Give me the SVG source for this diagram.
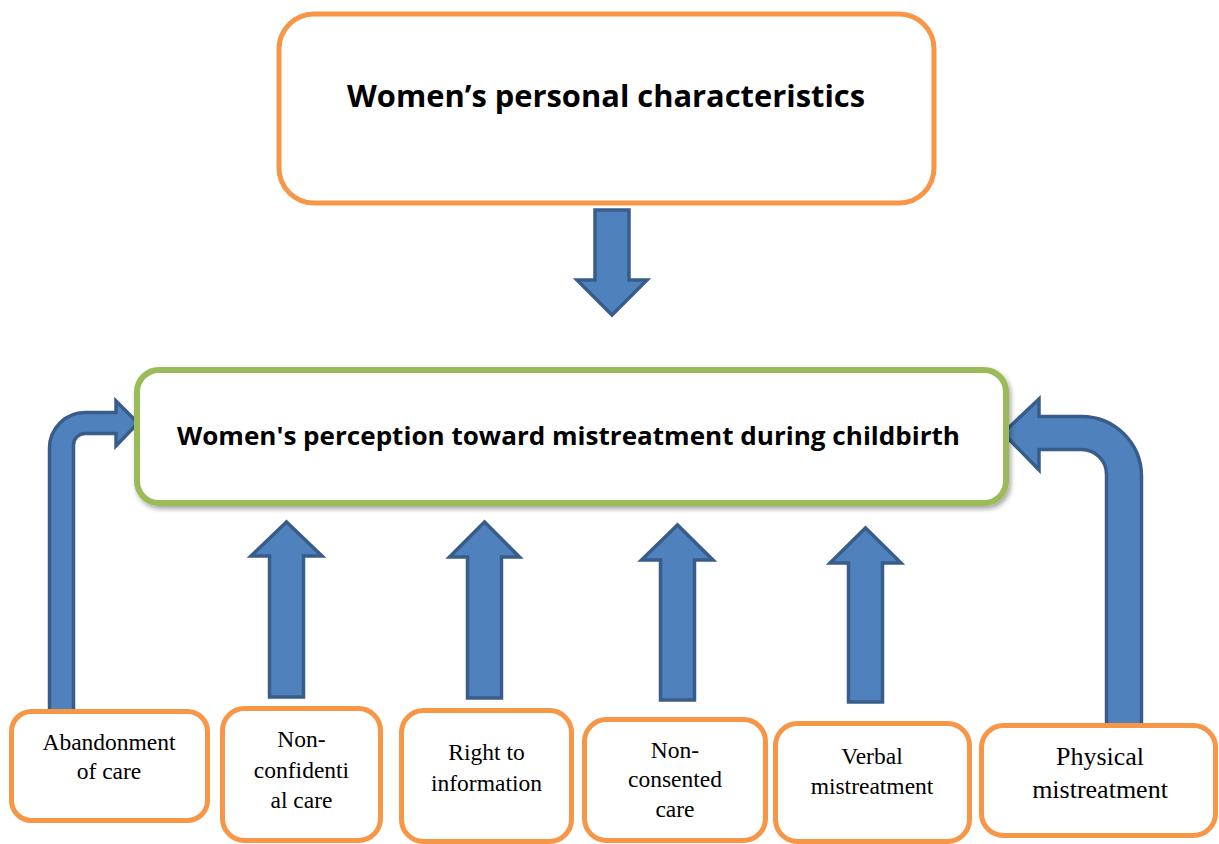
<svg xmlns="http://www.w3.org/2000/svg" width="1219" height="844" viewBox="0 0 1219 844">
<defs>
<style>
.ob{fill:#fff;stroke:#F79646;stroke-width:5}
.arr{fill:#4F81BD;stroke:#385D8A;stroke-width:3.5;stroke-linejoin:miter}
.h{font-family:"Open Sans","Liberation Sans",sans-serif;font-weight:700;fill:#000;text-anchor:middle}
.t{font-family:"Liberation Serif","Times New Roman",serif;font-size:23.5px;fill:#000;text-anchor:middle}
.tl{font-size:26px}
</style>
<filter id="sh" x="-5%" y="-10%" width="110%" height="130%">
<feDropShadow dx="2" dy="3" stdDeviation="2.5" flood-color="#000" flood-opacity="0.35"/>
</filter>
</defs>
<rect width="1219" height="844" fill="#fff"/>
<g id="connectors">
<path class="arr" d="M595 210 L629 210 L629 280 L647 280 L612 315 L577 280 L595 280 Z"/>
<path class="arr" d="M269.5 697 L269.5 556 L251 556 L286.5 522 L322 556 L303.5 556 L303.5 697 Z"/>
<path class="arr" d="M467.5 698 L467.5 557 L449.5 557 L484.5 522 L519.5 557 L501.5 557 L501.5 698 Z"/>
<path class="arr" d="M660.5 700 L660.5 560 L641.5 560 L677.5 525 L713 560 L694.5 560 L694.5 700 Z"/>
<path class="arr" d="M848.5 702 L848.5 563 L830 563 L865.5 528 L901 563 L882.5 563 L882.5 702 Z"/>
<path class="arr" d="M49.5 712 L49.5 448 A35.5 35.5 0 0 1 85 412.5 L116 412.5 L116 401 L138 423 L116 446 L116 433.5 L85 433.5 A11.5 11.5 0 0 0 73.5 445 L73.5 712 Z"/>
<path class="arr" d="M1141.5 726 L1141.5 476.5 A60 60 0 0 0 1081.5 416.5 L1039 416.5 L1039 399 L1003 433 L1039 470 L1039 449.5 L1081.5 449.5 A25 25 0 0 1 1106.5 474.5 L1106.5 726 Z"/>
</g>
<g id="n-personal">
<rect class="ob" x="279" y="14" width="655" height="189" rx="35" stroke-width="4.5"/>
<text class="h" x="606" y="107" font-size="31" textLength="518" lengthAdjust="spacingAndGlyphs">Women’s personal characteristics</text>
</g>
<g id="n-perception">
<rect x="137" y="370" width="869" height="133" rx="22" fill="#fff" stroke="#9BBB59" stroke-width="6" filter="url(#sh)"/>
<text class="h" x="568.5" y="445" font-size="24.5" textLength="783" lengthAdjust="spacingAndGlyphs">Women's perception toward mistreatment during childbirth</text>
</g>
<g id="n-abandonment">
<rect class="ob" x="11.5" y="711.5" width="196" height="109" rx="20"/>
<text class="t" x="109" y="750">Abandonment</text>
<text class="t" x="109" y="779">of care</text>
</g>
<g id="n-nonconfidential">
<rect class="ob" x="222.5" y="708.5" width="158" height="132" rx="22"/>
<text class="t" x="301.5" y="747">Non-</text>
<text class="t" x="301.5" y="778">confidenti</text>
<text class="t" x="301.5" y="808">al care</text>
</g>
<g id="n-right">
<rect class="ob" x="401.5" y="710.5" width="170" height="131" rx="22"/>
<text class="t" x="486.5" y="760">Right to</text>
<text class="t" x="486.5" y="791">information</text>
</g>
<g id="n-nonconsented">
<rect class="ob" x="584.5" y="719.5" width="181" height="121" rx="22"/>
<text class="t" x="675" y="758">Non-</text>
<text class="t" x="675" y="787">consented</text>
<text class="t" x="675" y="817">care</text>
</g>
<g id="n-verbal">
<rect class="ob" x="775.5" y="723.5" width="194" height="118" rx="22"/>
<text class="t" x="872" y="764">Verbal</text>
<text class="t" x="872" y="794">mistreatment</text>
</g>
<g id="n-physical">
<rect class="ob" x="981.5" y="725.5" width="234" height="110" rx="22"/>
<text class="t tl" x="1100" y="765">Physical</text>
<text class="t tl" x="1100" y="798">mistreatment</text>
</g>
</svg>
